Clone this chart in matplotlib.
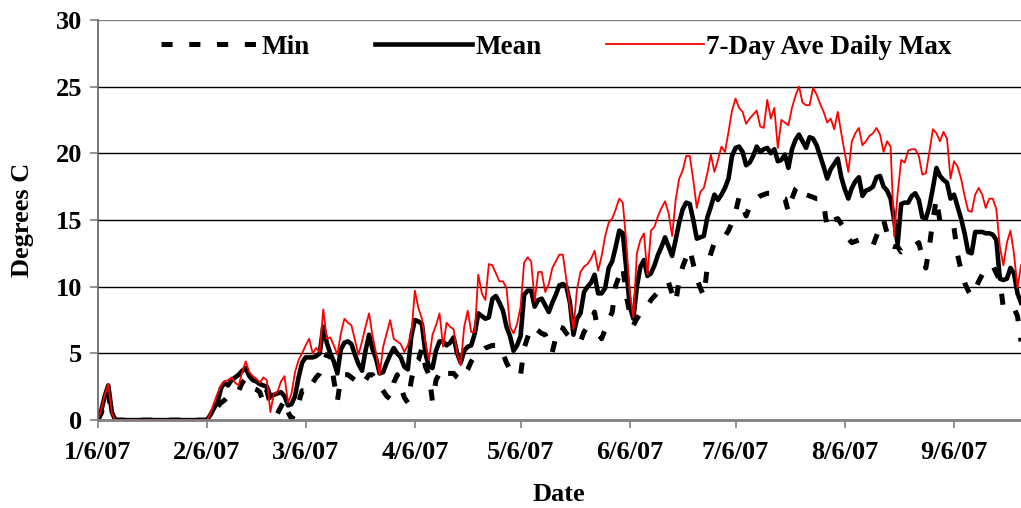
import matplotlib
matplotlib.use("Agg")
import matplotlib.pyplot as plt
import matplotlib.dates as mdates
import numpy as np
import pandas as pd

# daily water temperature, deg C, starting 1/6/07
start_date = "2007-01-06"

temp_min = [
    0.0, 0.5, 1.5, 2.0, 0.3,
    0, 0, 0, 0, 0, 0, 0, 0, 0, 0, 0, 0, 0, 0, 0, 0, 0, 0, 0, 0, 0, 0, 0, 0, 0, 0, 0,
    0.2, 0.6, 1.0, 1.3, 1.5, 1.8, 2.0, 2.0, 2.2, 2.8, 3.1, 2.6, 2.4, 2.3, 2.1, 1.3, 2.2, 1.2,
    0.6, 0.5, 1.0, 1.5, 0.6, 0.1, 0.5, 1.3, 2.2, 2.2, 2.1, 2.8, 3.2, 3.5, 4.2, 4.9, 4.9, 3.0,
    1.4, 3.2, 3.4, 3.4, 3.2, 3.0, 2.9, 2.6, 3.0, 3.4, 3.4, 3.0, 2.6, 2.2, 1.8, 1.6, 2.8, 3.4,
    2.5, 1.7, 1.3, 3.0, 4.2, 4.5, 5.4, 4.0, 3.4, 1.4, 3.0, 3.5, 3.9, 3.5, 3.5, 3.5, 3.2, 3.0,
    3.4, 3.8, 4.4, 4.8, 5.0, 5.2, 5.4, 5.5, 5.6, 5.6, 5.6, 5.0, 4.3, 3.8, 3.5, 3.4, 3.4, 5.4,
    6.2, 7.0, 6.9, 6.7, 6.5, 6.4, 5.8, 5.1, 6.2, 7.0, 6.9, 6.5, 6.2, 6.0, 5.9, 5.9, 6.6, 7.0,
    7.4, 8.1, 6.5, 6.1, 6.8, 7.5, 8.1, 10.1, 10.8, 11.5, 9.3, 8.0, 7.1, 7.6, 8.0, 8.3, 8.6, 9.0,
    9.3, 9.6, 9.8, 10.0, 10.3, 9.5, 8.8, 10.5, 11.5, 12.2, 12.8, 11.7, 10.6, 9.9, 9.3, 11.5, 12.5, 13.3,
    13.5, 13.6, 13.8, 14.2, 14.8, 15.6, 16.7, 16.0, 15.3, 16.0, 16.4, 16.6, 16.8, 16.9, 17.0, 17.0, 16.9, 16.8,
    16.7, 16.6, 15.6, 16.6, 17.3, 17.6, 17.3, 16.9, 16.8, 16.7, 16.6, 16.6, 16.2, 14.4, 14.7, 15.0, 15.1, 14.7,
    14.3, 13.6, 13.3, 13.4, 13.5, 13.5, 13.4, 13.3, 13.1, 13.8, 14.5, 15.0, 14.0, 13.1, 13.0, 13.0, 12.6, 12.8,
    12.9, 13.0, 13.1, 13.3, 12.2, 11.4, 13.0, 15.0, 16.6, 14.9, 14.8, 14.7, 14.5, 14.4, 12.4, 11.2, 10.3, 9.7,
    9.3, 9.8, 10.4, 10.9, 11.1, 11.3, 11.6, 11.0, 10.5, 8.4, 8.4, 8.4, 8.4, 7.8, 5.9,
]

temp_mean = [
    0.0, 0.7, 1.8, 2.6, 0.6,
    0, 0, 0, 0, 0, 0, 0, 0, 0, 0, 0, 0, 0, 0, 0, 0, 0, 0, 0, 0, 0, 0, 0, 0, 0, 0, 0,
    0.4, 0.9, 1.3, 2.4, 2.8, 2.6, 3.0, 3.2, 3.4, 3.7, 3.9, 3.3, 3.0, 2.9, 2.7, 2.6, 2.5, 1.8,
    1.9, 2.0, 2.1, 1.8, 1.1, 1.2, 1.8, 3.2, 4.3, 4.7, 4.7, 4.7, 4.8, 5.0, 7.0, 5.8, 5.0, 4.4,
    3.5, 5.3, 5.8, 5.9, 5.7, 4.9, 4.2, 3.7, 5.2, 6.4, 5.3, 4.6, 3.5, 3.6, 4.3, 4.9, 5.4, 5.0,
    4.7, 4.0, 3.8, 6.3, 7.5, 7.4, 7.2, 5.0, 4.0, 3.9, 5.2, 5.9, 5.9, 5.6, 5.8, 6.2, 5.0, 4.3,
    5.2, 5.5, 5.6, 6.5, 8.0, 7.8, 7.6, 7.7, 9.1, 9.3, 8.8, 8.2, 7.0, 6.3, 5.2, 5.6, 6.3, 9.4,
    9.7, 9.7, 8.5, 9.0, 9.1, 8.6, 8.1, 8.8, 9.4, 10.1, 10.2, 10.0, 8.8, 6.4, 7.6, 8.0, 9.6, 10.0,
    10.3, 10.9, 9.5, 9.5, 9.9, 11.4, 11.9, 13.0, 14.2, 14.0, 11.3, 8.5, 7.6, 10.0, 11.5, 12.0, 10.8, 11.0,
    11.6, 12.4, 13.0, 13.7, 13.0, 12.3, 13.5, 14.8, 15.8, 16.3, 16.2, 15.0, 13.6, 13.7, 13.8, 15.2, 16.0, 16.9,
    16.5, 16.9, 17.4, 18.1, 19.8, 20.4, 20.5, 20.1, 19.1, 19.3, 19.8, 20.5, 20.1, 20.3, 20.4, 20.0, 20.3, 19.4,
    19.5, 19.9, 18.9, 20.3, 21.0, 21.4, 20.9, 20.4, 21.2, 21.1, 20.6, 19.8, 19.0, 18.1, 18.8, 19.2, 19.6, 18.2,
    17.3, 16.6, 17.4, 17.9, 18.2, 16.8, 17.2, 17.3, 17.5, 18.2, 18.3, 17.5, 17.2, 16.6, 15.0, 13.2, 16.2, 16.3,
    16.3, 16.8, 17.0, 16.5, 15.2, 15.1, 16.0, 17.4, 18.9, 18.3, 18.0, 17.8, 16.6, 16.9, 16.0, 15.1, 14.0, 12.6,
    12.5, 14.1, 14.1, 14.1, 14.0, 14.0, 13.9, 13.5, 10.6, 10.5, 10.6, 11.4, 11.0, 9.5, 8.8,
]

max_7day = [
    0.0, 0.8, 1.9, 2.7, 0.5,
    0, 0, 0, 0, 0, 0, 0, 0, 0, 0, 0, 0, 0, 0, 0, 0, 0, 0, 0, 0, 0, 0, 0, 0, 0, 0, 0,
    0.5, 1.3, 2.0, 2.6, 2.9, 3.0, 3.2, 2.8, 2.6, 3.6, 4.4, 3.6, 3.3, 3.1, 2.8, 3.2, 3.0, 0.6,
    2.0, 2.1, 2.9, 3.3, 1.3, 2.0, 3.6, 4.5, 5.0, 5.6, 6.1, 5.0, 5.4, 5.1, 8.3, 6.1, 6.2, 5.6,
    4.9, 6.5, 7.6, 7.3, 7.1, 6.0, 4.9, 5.9, 7.0, 8.0, 6.3, 5.0, 3.4, 5.5, 6.5, 7.5, 6.1, 5.9,
    5.7, 5.1, 5.6, 6.5, 9.7, 8.4, 7.6, 5.8, 4.5, 6.4, 7.1, 8.0, 5.5, 7.3, 7.0, 6.8, 5.0, 4.1,
    7.0, 8.2, 6.6, 6.6, 10.9, 9.5, 9.0, 11.7, 11.6, 11.0, 10.4, 10.4, 9.9, 7.0, 6.5, 7.2, 8.5, 11.8,
    12.2, 11.9, 8.9, 11.1, 11.1, 9.6, 10.2, 11.4, 11.9, 12.4, 12.4, 10.5, 8.5, 6.8, 9.8, 11.1, 11.5, 11.7,
    12.1, 12.7, 11.2, 12.3, 13.8, 14.8, 15.1, 15.8, 16.6, 16.3, 13.3, 9.5, 7.7, 12.5, 13.5, 14.0, 10.9, 14.2,
    14.5, 15.3, 15.9, 16.4, 15.5, 13.8, 16.5, 18.1, 18.7, 19.8, 19.8, 18.0, 15.9, 17.1, 17.4, 18.5, 19.9, 18.6,
    19.5, 20.5, 20.1, 21.6, 23.2, 24.1, 23.4, 23.1, 22.2, 22.6, 22.9, 23.2, 22.0, 21.9, 24.0, 22.6, 23.4, 20.4,
    22.5, 22.3, 22.1, 23.4, 24.3, 25.0, 23.8, 23.6, 23.6, 24.9, 24.4, 23.7, 23.1, 22.3, 22.6, 21.8, 23.1, 21.5,
    20.0, 18.6, 20.9, 21.5, 21.9, 20.6, 20.9, 21.3, 21.5, 21.9, 21.4, 20.1, 20.9, 20.5, 13.8, 17.0, 19.5, 19.3,
    20.2, 20.3, 20.3, 19.8, 18.4, 18.5, 20.1, 21.8, 21.5, 20.9, 21.6, 21.1, 18.1, 19.4, 19.0, 18.1, 16.8, 15.7,
    15.6, 16.9, 17.4, 16.9, 15.9, 16.6, 16.6, 15.8, 13.0, 11.6, 13.3, 14.2, 12.5, 9.9, 11.6,
]

series_labels = ["Min", "Mean", "7-Day Ave Daily Max"]
y_ticks = [0, 5, 10, 15, 20, 25, 30]

dates = pd.date_range(start_date, periods=len(temp_mean), freq="D")
month_ticks = pd.date_range(start_date, periods=9, freq=pd.DateOffset(months=1))

plt.rcParams["font.family"] = ["Liberation Serif", "DejaVu Serif"]
plt.rcParams["font.weight"] = "bold"
plt.rcParams["lines.scale_dashes"] = False

fig = plt.figure(figsize=(10.21, 5.08), dpi=100)
ax = fig.add_axes([0.0957, 0.173, 0.9043, 0.788])

ax.plot(dates, temp_min, color="black", lw=3.6, dashes=(8, 12),
        solid_capstyle="butt", dash_capstyle="butt", label=series_labels[0])
ax.plot(dates, temp_mean, color="black", lw=3.3, label=series_labels[1])
ax.plot(dates, max_7day, color="#ff0000", lw=1.3, label=series_labels[2])

ax.set_ylim(0, 30)
ax.set_xlim(dates[0], dates[-1])
ax.set_yticks(y_ticks)
ax.set_xticks(month_ticks)
ax.xaxis.set_major_formatter(
    plt.FuncFormatter(lambda v, p: "{0.month}/{0.day}/{0:%y}".format(mdates.num2date(v))))

for y in y_ticks[1:]:
    ax.axhline(y, color="black" if y < 30 else "#808080", lw=1.0, zorder=0)

for side in ["top", "right"]:
    ax.spines[side].set_visible(False)
ax.spines["bottom"].set_color("#808080")
ax.spines["bottom"].set_linewidth(2)
ax.spines["left"].set_color("#606060")
ax.spines["left"].set_linewidth(1.2)
ax.tick_params(axis="both", colors="#808080", labelcolor="black", length=6, width=1.2,
               labelsize=19, pad=5)
ax.tick_params(axis="x", pad=9)

ax.set_xlabel("Date", fontsize=19, fontweight="bold", labelpad=14)
ax.set_ylabel("Degrees C", fontsize=19, fontweight="bold", labelpad=16)

ax.legend(loc="center", bbox_to_anchor=(0.497, 0.932), ncol=3, frameon=False,
          fontsize=19.5, handlelength=3.6, handletextpad=0.1, columnspacing=2.4)

fig.savefig("out.png", dpi=100)
